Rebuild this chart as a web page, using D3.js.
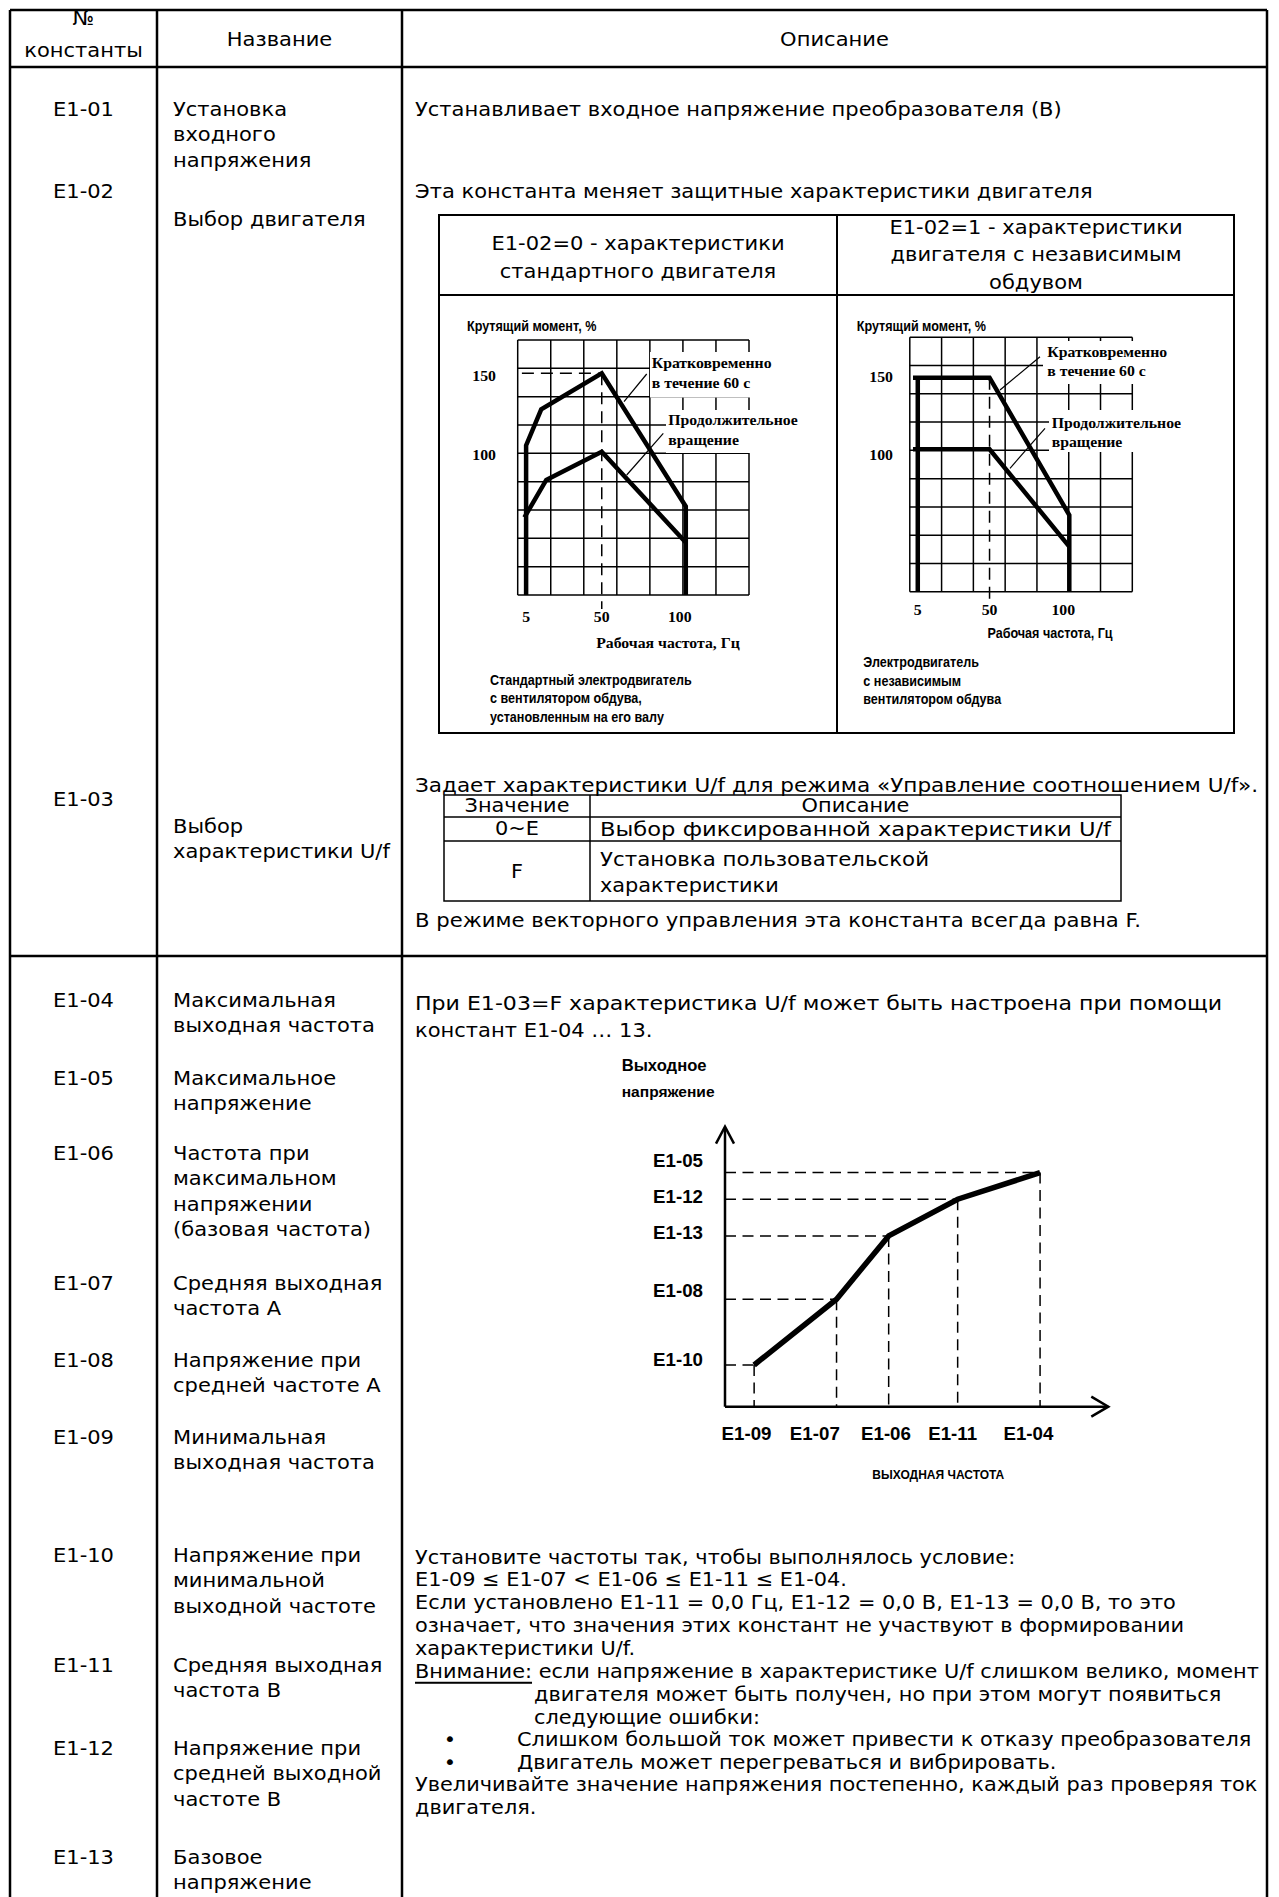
<!DOCTYPE html>
<html>
<head>
<meta charset="utf-8">
<title>E1 constants</title>
<style>
  body { margin: 0; background: #fff; }
  svg { display: block; }
</style>
</head>
<body>
<div id="page"></div>
<script src="https://d3js.org/d3.v7.min.js"></script>
<script>

// ---------- data ----------
var codesA = ["E1-01", "E1-02", "E1-03"];
var namesA = [["Установка", "входного", "напряжения"], ["Выбор двигателя"], ["Выбор", "характеристики U/f"]];

var codesB = ["E1-04", "E1-05", "E1-06", "E1-07", "E1-08", "E1-09", "E1-10", "E1-11", "E1-12", "E1-13"];
var namesB = [
    ["Максимальная", "выходная частота"],
    ["Максимальное", "напряжение"],
    ["Частота при", "максимальном", "напряжении", "(базовая частота)"],
    ["Средняя выходная", "частота А"],
    ["Напряжение при", "средней частоте А"],
    ["Минимальная", "выходная частота"],
    ["Напряжение при", "минимальной", "выходной частоте"],
    ["Средняя выходная", "частота В"],
    ["Напряжение при", "средней выходной", "частоте В"],
    ["Базовое", "напряжение"]
];

// torque / frequency charts (Hz, %)
var torqueXTicks = [5, 50, 100];
var torqueYTicks = [100, 150];
var stdShort = [[5, 8.5], [5, 104], [14, 127], [50, 150], [100, 65], [100, 8.5]];
var stdCont = [[4, 58], [17, 82], [50, 100], [100, 42]];
var fanBase = [[5, 0.5], [5, 150]];
var fanShort = [[2, 150], [50, 150], [100, 54], [100, 0.5]];
var fanCont = [[2, 100], [50, 100], [100, 32]];

// U/f pattern (relative units)
var ufFreq = [7.6, 29.1, 42.7, 60.7, 82.2];
var ufVolt = [14.9, 38.4, 61.0, 74.1, 83.6];
var ufFreqLabels = ["E1-09", "E1-07", "E1-06", "E1-11", "E1-04"];
var ufVoltLabels = ["E1-10", "E1-08", "E1-13", "E1-12", "E1-05"];

var selTable = [["Значение", "Описание"], ["0~E", "Выбор фиксированной характеристики U/f"], ["F", "Установка пользовательской", "характеристики"]];

var notes = [
    "Установите частоты так, чтобы выполнялось условие:",
    "E1-09 ≤ E1-07 < E1-06 ≤ E1-11 ≤ E1-04.",
    "Если установлено E1-11 = 0,0 Гц, E1-12 = 0,0 В, E1-13 = 0,0 В, то это",
    "означает, что значения этих констант не участвуют в формировании",
    "характеристики U/f."
];
var warnHead = "Внимание:";
var warnLines = [" если напряжение в характеристике U/f слишком велико, момент",
    "двигателя может быть получен, но при этом могут появиться",
    "следующие ошибки:"];
var bullets = ["Слишком большой ток может привести к отказу преобразователя",
    "Двигатель может перегреваться и вибрировать."];
var tail = ["Увеличивайте значение напряжения постепенно, каждый раз проверяя ток", "двигателя."];

// ---------- fonts (width calibrated at run time) ----------
var fonts = {
    body: { family: "'DejaVu Sans', Verdana, sans-serif", size: 20, weight: "normal", ref: "Устанавливает входное напряжение преобразователя (В)", w: 647 },
    cond: { family: "'DejaVu Sans', sans-serif", size: 20, weight: "normal", ref: "Увеличивайте значение напряжения постепенно, каждый раз проверяя ток", w: 843 },
    chart: { family: "'Liberation Sans Narrow', 'Liberation Sans', Arial, sans-serif", size: 14, weight: "bold", ref: "Стандартный электродвигатель", w: 202 },
    serif: { family: "'Liberation Serif', 'Times New Roman', serif", size: 15, weight: "bold", ref: "Кратковременно", w: 120 },
    uf: { family: "'Liberation Sans', Arial, sans-serif", size: 18, weight: "bold", ref: "E1-05", w: 50 },
    ufSmall: { family: "'Liberation Sans Narrow', 'Liberation Sans', Arial, sans-serif", size: 12, weight: "bold", ref: "ВЫХОДНАЯ ЧАСТОТА", w: 132 },
    ufTitle: { family: "'Liberation Sans', Arial, sans-serif", size: 15, weight: "bold", ref: "напряжение", w: 93 }
};

var W = 1279, H = 1897;
var svg = d3.select("#page").append("svg").attr("width", W).attr("height", H);
svg.append("rect").attr("width", W).attr("height", H).attr("fill", "#fff");

Object.keys(fonts).forEach(function (k) {
    var f = fonts[k];
    var t = svg.append("text").attr("font-family", f.family).attr("font-size", f.size)
        .attr("font-weight", f.weight).text(f.ref);
    f.k = f.w / t.node().getComputedTextLength();
    t.remove();
});

// text with the class's width factor, or stretched to an exact width
function put(g, str, x, y, cls, anchor, width) {
    var f = fonts[cls];
    var t = g.append("text")
        .attr("font-family", f.family)
        .attr("font-size", f.size)
        .attr("font-weight", f.weight)
        .attr("dominant-baseline", "central")
        .attr("text-anchor", anchor || "start")
        .attr("fill", "#000")
        .text(str);
    if (width) {
        t.attr("x", x).attr("y", y).attr("textLength", width).attr("lengthAdjust", "spacingAndGlyphs");
    } else {
        t.attr("transform", "translate(" + x + "," + y + ") scale(" + f.k + ",1)");
    }
    return t;
}

function seg(g, x1, y1, x2, y2, w, dash) {
    var l = g.append("line").attr("x1", x1).attr("y1", y1).attr("x2", x2).attr("y2", y2)
        .attr("stroke", "#000").attr("stroke-width", w);
    if (dash) l.attr("stroke-dasharray", dash);
    return l;
}

// ---------- main table ----------
var tbl = svg.append("g");
var colX = [10, 157, 402, 1267];
colX.forEach(function (x) { seg(tbl, x, 10, x, H, 2.5); });
[10, 67, 956].forEach(function (y) { seg(tbl, 10, y, 1267, y, 2.5); });

put(tbl, "№", 83.5, 18, "body", "middle");
put(tbl, "константы", 83.5, 50, "body", "middle");
put(tbl, "Название", 279.5, 39, "body", "middle");
put(tbl, "Описание", 834.5, 39, "body", "middle");

var lineStep = 25.5;
var codeYA = [109, 191, 799], nameYA = [109, 219, 826];
codesA.forEach(function (c, i) {
    put(tbl, c, 83.5, codeYA[i], "body", "middle");
    namesA[i].forEach(function (s, j) { put(tbl, s, 173, nameYA[i] + j * lineStep, "body"); });
});
var codeYB = [1000, 1078, 1153, 1283, 1360, 1437, 1555, 1665, 1748, 1857];
codesB.forEach(function (c, i) {
    put(tbl, c, 83.5, codeYB[i], "body", "middle");
    namesB[i].forEach(function (s, j) { put(tbl, s, 173, codeYB[i] + j * lineStep, "body"); });
});

// ---------- description, row 1 ----------
var d1 = svg.append("g");
put(d1, "Устанавливает входное напряжение преобразователя (В)", 415, 109, "body");
put(d1, "Эта константа меняет защитные характеристики двигателя", 415, 191, "body");

// motor table frame
var mt = svg.append("g");
mt.append("rect").attr("x", 439).attr("y", 215).attr("width", 795).attr("height", 518)
    .attr("fill", "none").attr("stroke", "#000").attr("stroke-width", 2);
seg(mt, 837, 215, 837, 733, 2);
seg(mt, 439, 295, 1234, 295, 2);
put(mt, "E1-02=0 - характеристики", 638, 243, "body", "middle");
put(mt, "стандартного двигателя", 638, 271, "body", "middle");
put(mt, "E1-02=1 - характеристики", 1036, 227, "body", "middle");
put(mt, "двигателя с независимым", 1036, 254, "body", "middle");
put(mt, "обдувом", 1036, 282, "body", "middle");

function torqueChart(cfg) {
    var g = svg.append("g");
    var x = d3.scaleLinear().domain(cfg.xDom).range([cfg.x0, cfg.x1]);
    var y = d3.scaleLinear().domain(cfg.yDom).range([cfg.y0, cfg.y1]);
    var xg = d3.range(8).map(function (i) { return cfg.xDom[0] + (cfg.xDom[1] - cfg.xDom[0]) * i / 7; });
    var yg = d3.range(10).map(function (i) { return cfg.yDom[0] + (cfg.yDom[1] - cfg.yDom[0]) * i / 9; });
    xg.forEach(function (v) { seg(g, x(v), y(cfg.yDom[0]), x(v), y(cfg.yDom[1]), 1.5); });
    yg.forEach(function (v) { seg(g, x(cfg.xDom[0]), y(v), x(cfg.xDom[1]), y(v), 1.5); });

    // label blocks hide the grid behind them
    cfg.blocks.forEach(function (b) {
        g.append("rect").attr("x", b.x).attr("y", b.y).attr("width", b.w).attr("height", b.h).attr("fill", "#fff");
    });

    var line = d3.line().x(function (d) { return x(d[0]); }).y(function (d) { return y(d[1]); });
    cfg.dashes.forEach(function (d) {
        g.append("path").attr("d", line(d)).attr("fill", "none").attr("stroke", "#000")
            .attr("stroke-width", 1.5).attr("stroke-dasharray", "12,7");
    });
    cfg.curves.forEach(function (c) {
        g.append("path").attr("d", line(c)).attr("fill", "none").attr("stroke", "#000")
            .attr("stroke-width", 4.5).attr("stroke-linejoin", "miter");
    });
    cfg.leaders.forEach(function (l) { seg(g, l[0], l[1], l[2], l[3], 1.2); });

    put(g, "Крутящий момент, %", cfg.yTitleX, 326, "chart");
    torqueYTicks.forEach(function (v, i) { put(g, String(v), cfg.yTickX, y(v) + cfg.yTickDy[i], "serif", "end"); });
    torqueXTicks.forEach(function (v) { put(g, String(v), x(v) - (v >= 100 ? 6 : 0), cfg.xTickY, "serif", "middle"); });
    put(g, "Рабочая частота, Гц", cfg.xTitle[0], cfg.xTitle[1], cfg.xTitleFont, "middle");
    cfg.labels.forEach(function (l) { put(g, l[0], l[1], l[2], "serif"); });
    cfg.caption.forEach(function (s, i) { put(g, s, cfg.capX, cfg.capY + i * cfg.capStep, "chart"); });
    return { x: x, y: y };
}

var stdCfg = {
    x0: 517.7, x1: 749, y0: 595, y1: 340, xDom: [0, 137.6], yDom: [8.5, 171.3],
    blocks: [{ x: 650, y: 352, w: 110, h: 45.5 }, { x: 666, y: 410, w: 140, h: 43 }],
    curves: [stdShort, stdCont],
    dashes: [[[2.5, 150], [50, 150]], [[50, 150], [50, -0.5]]],
    leaders: [[646.7, 374, 624, 401.7], [663.3, 433.3, 626.7, 475]],
    yTitleX: 467, yTickX: 496, yTickDy: [3, 2], xTickY: 617,
    xTitle: [668, 643], xTitleFont: "serif",
    labels: [["Кратковременно", 651.7, 363], ["в течение 60 с", 651.7, 382.7],
             ["Продолжительное", 668.3, 420], ["вращение", 668.3, 439.3]],
    caption: ["Стандартный электродвигатель", "с вентилятором обдува,", "установленным на его валу"],
    capX: 490, capY: 680, capStep: 18.4
};
var fanCfg = {
    x0: 909.8, x1: 1132.3, y0: 591.7, y1: 337.3, xDom: [0, 139.5], yDom: [0.5, 178.2],
    blocks: [{ x: 1043, y: 341, w: 97, h: 43 }, { x: 1049, y: 410, w: 96, h: 42 }],
    curves: [fanBase, fanShort, fanCont],
    dashes: [[[50, 150], [50, -5.5]]],
    leaders: [[1040, 356.7, 1000, 390], [1045, 428.3, 1010, 468.3]],
    yTitleX: 856.7, yTickX: 893, yTickDy: [5, -1], xTickY: 610,
    xTitle: [1050, 633], xTitleFont: "chart",
    labels: [["Кратковременно", 1047.3, 351.7], ["в течение 60 с", 1047.3, 371],
             ["Продолжительное", 1051.7, 422.7], ["вращение", 1051.7, 441.7]],
    caption: ["Электродвигатель", "с независимым", "вентилятором обдува"],
    capX: 863.3, capY: 662.7, capStep: 18.3
};
torqueChart(stdCfg);
torqueChart(fanCfg);

// U/f selection
put(d1, "Задает характеристики U/f для режима «Управление соотношением U/f».", 415, 785, "cond", "start", 843);
var st = svg.append("g");
var stRows = [795, 817, 841, 901];
st.append("rect").attr("x", 444).attr("y", stRows[0]).attr("width", 677).attr("height", stRows[3] - stRows[0])
    .attr("fill", "none").attr("stroke", "#000").attr("stroke-width", 1.5);
seg(st, 590, stRows[0], 590, stRows[3], 1.5);
seg(st, 444, stRows[1], 1121, stRows[1], 1.5);
seg(st, 444, stRows[2], 1121, stRows[2], 1.5);
put(st, selTable[0][0], 517, 805.5, "cond", "middle");
put(st, selTable[0][1], 855.5, 805.5, "cond", "middle");
put(st, selTable[1][0], 517, 828.5, "cond", "middle");
put(st, selTable[1][1], 600, 828.5, "cond", "start", 511);
put(st, selTable[2][0], 517, 871, "cond", "middle");
put(st, selTable[2][1], 600, 859, "cond", "start", 329);
put(st, selTable[2][2], 600, 885, "cond");
put(d1, "В режиме векторного управления эта константа всегда равна F.", 415, 920, "cond", "start", 726);

// ---------- description, row 2 ----------
var d2 = svg.append("g");
put(d2, "При E1-03=F характеристика U/f может быть настроена при помощи", 415, 1003, "body", "start", 807);
put(d2, "констант E1-04 … 13.", 415, 1030, "body");

// U/f chart
var uf = svg.append("g");
var ux = d3.scaleLinear().domain([0, 100]).range([725, 1108.3]);
var uy = d3.scaleLinear().domain([0, 100]).range([1406.7, 1126.7]);
put(uf, "Выходное", 621.7, 1065, "ufTitle").attr("font-size", 16);
put(uf, "напряжение", 621.7, 1091.7, "ufTitle");

ufFreq.forEach(function (f, i) {
    seg(uf, ux(0), uy(ufVolt[i]), ux(f), uy(ufVolt[i]), 1.5, "11,6.5");
    seg(uf, ux(f), uy(ufVolt[i]), ux(f), uy(0), 1.5, "11,6.5");
});
seg(uf, ux(0), uy(0), ux(0), uy(100) + 1, 2.5);
seg(uf, ux(0), uy(0), ux(100), uy(0), 2.5);
uf.append("path").attr("d", "M" + (ux(0) - 9) + "," + (uy(100) + 17) + "L" + ux(0) + "," + uy(100) + "L" + (ux(0) + 9) + "," + (uy(100) + 17))
    .attr("fill", "none").attr("stroke", "#000").attr("stroke-width", 2.5);
uf.append("path").attr("d", "M" + (ux(100) - 17) + "," + (uy(0) - 10) + "L" + ux(100) + "," + uy(0) + "L" + (ux(100) - 17) + "," + (uy(0) + 10))
    .attr("fill", "none").attr("stroke", "#000").attr("stroke-width", 2.5);

var ufLine = d3.line().x(function (d) { return ux(d); }).y(function (d, i) { return uy(ufVolt[i]); });
uf.append("path").attr("d", ufLine(ufFreq)).attr("fill", "none").attr("stroke", "#000")
    .attr("stroke-width", 5.5).attr("stroke-linejoin", "miter");

var voltShift = [-5, -9, -3, -3, -12];
ufVoltLabels.forEach(function (s, i) { put(uf, s, 703, uy(ufVolt[i]) + voltShift[i], "uf", "end"); });
var freqShift = [-7.6, -21.7, -2.7, -5, -11.7];
ufFreqLabels.forEach(function (s, i) { put(uf, s, ux(ufFreq[i]) + freqShift[i], 1433.3, "uf", "middle"); });
put(uf, "ВЫХОДНАЯ ЧАСТОТА", 938.3, 1475, "ufSmall", "middle");

// notes
var ny = [1557, 1579.5, 1602, 1625, 1648, 1671, 1694, 1717, 1739.5, 1762, 1784.5, 1807];
notes.forEach(function (s, i) { put(d2, s, 415, ny[i], "cond"); });
var warn = put(d2, "", 415, ny[5], "cond");
warn.append("tspan").attr("text-decoration", "underline").text(warnHead);
warn.append("tspan").text(warnLines[0]);
put(d2, warnLines[1], 534, ny[6], "cond");
put(d2, warnLines[2], 534, ny[7], "cond");
bullets.forEach(function (s, i) {
    put(d2, "•", 450, ny[8 + i], "cond", "middle");
    put(d2, s, 517, ny[8 + i], "cond");
});
tail.forEach(function (s, i) { put(d2, s, 415, ny[10 + i], "cond"); });

</script>
</body>
</html>
